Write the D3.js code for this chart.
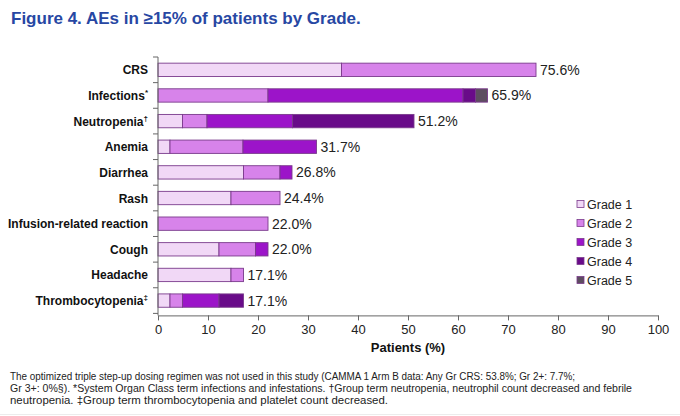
<!DOCTYPE html>
<html><head><meta charset="utf-8">
<script src="https://cdn.jsdelivr.net/npm/d3@7"></script>
<style>
body{margin:0;background:#fff;font-family:"Liberation Sans",Arial,sans-serif;}
</style></head><body>
<svg id="c" width="680" height="416"></svg>
<script>
const categories = ["CRS","Infections","Neutropenia","Anemia","Diarrhea","Rash","Infusion-related reaction","Cough","Headache","Thrombocytopenia"];
const superscripts = ["","*","†","","","","","","","‡"];
const grades = ["Grade 1","Grade 2","Grade 3","Grade 4","Grade 5"];
const grade1 = [36.7, 0, 4.9, 2.4, 17.1, 14.6, 0, 12.2, 14.6, 2.4];
const grade2 = [38.9, 22.0, 4.9, 14.6, 7.3, 9.8, 22.0, 7.3, 2.5, 2.5];
const grade3 = [0, 39.0, 17.1, 14.7, 2.4, 0, 0, 2.5, 0, 7.3];
const grade4 = [0, 2.5, 24.3, 0, 0, 0, 0, 0, 0, 4.9];
const grade5 = [0, 2.4, 0, 0, 0, 0, 0, 0, 0, 0];
const totalLabels = ["75.6%","65.9%","51.2%","31.7%","26.8%","24.4%","22.0%","22.0%","17.1%","17.1%"];
const xTicks = [0,10,20,30,40,50,60,70,80,90,100];
const colors = ["#f1d8f6","#d783ea","#9c14c9","#690b89","#5d4d60"];

const svg = d3.select("#c");
const series = [grade1,grade2,grade3,grade4,grade5];
const rows = categories.map((c,i)=>{const o={cat:c}; grades.forEach((g,k)=>o[g]=series[k][i]); return o;});
const stack = d3.stack().keys(grades)(rows);

const x = d3.scaleLinear().domain([0,100]).range([158,658]);
const y = d3.scaleBand().domain(categories).range([57,313.4]).paddingInner(0.48).paddingOuter(0.24);

// title
svg.append("text").attr("x",11).attr("y",24).attr("fill","#2747a3")
  .attr("font-size",17).attr("font-weight","bold").text("Figure 4. AEs in ≥15% of patients by Grade.");

// bars
const g = svg.append("g");
stack.forEach((s,k)=>{
  g.selectAll(null).data(s.filter(d=>d[1]-d[0]>0)).enter().append("rect")
    .attr("x",d=>x(d[0])).attr("width",d=>x(d[1])-x(d[0]))
    .attr("y",d=>y(d.data.cat)).attr("height",y.bandwidth())
    .attr("fill",colors[k]).attr("stroke","#7a3b8c").attr("stroke-width",0.9);
});

// totals
const totals = categories.map((c,i)=>series.reduce((a,s)=>a+s[i],0));
svg.selectAll(null).data(categories).enter().append("text")
  .attr("x",(d,i)=>x(totals[i])+4).attr("y",d=>y(d)+y.bandwidth()/2+5)
  .attr("font-size",14).attr("fill","#222").text((d,i)=>totalLabels[i]);

// y axis
const axisColor="#666";
const axisY = y.range()[1]+2;
svg.append("line").attr("x1",x(0)).attr("x2",x(0)).attr("y1",y.range()[0]).attr("y2",axisY).attr("stroke",axisColor);
const bounds = categories.map(c=>y(c)-y.step()*y.paddingInner()/2).concat([y.range()[1]]);
bounds[0]=y.range()[0];
svg.selectAll(null).data(bounds).enter().append("line")
  .attr("x1",x(0)-5).attr("x2",x(0)).attr("y1",d=>d).attr("y2",d=>d).attr("stroke",axisColor);
const lab = svg.selectAll(null).data(categories).enter().append("text")
  .attr("x",x(0)-10).attr("y",d=>y(d)+y.bandwidth()/2+4.5)
  .attr("text-anchor","end").attr("font-size",12).attr("font-weight","bold").attr("fill","#111");
lab.append("tspan").text(d=>d);
lab.append("tspan").attr("font-size",8).attr("dy",-5).text((d,i)=>superscripts[i]);

// x axis
const xa = svg.append("g").attr("transform",`translate(0,${axisY})`)
  .call(d3.axisBottom(x).tickValues(xTicks).tickSize(5).tickSizeOuter(0).tickPadding(4));
xa.select(".domain").attr("stroke",axisColor);
xa.selectAll(".tick line").attr("stroke",axisColor);
xa.selectAll("text").attr("font-size",13).attr("fill","#222").attr("font-family","Liberation Sans, Arial, sans-serif");
svg.append("text").attr("x",408).attr("y",352).attr("text-anchor","middle")
  .attr("font-size",13).attr("font-weight","bold").attr("fill","#111").text("Patients (%)");

// legend
const lg = svg.append("g").attr("transform","translate(577,204)");
grades.forEach((gname,k)=>{
  const row = lg.append("g").attr("transform",`translate(0,${k*19})`);
  row.append("rect").attr("x",0).attr("y",-3.5).attr("width",7).attr("height",7)
    .attr("fill",colors[k]).attr("stroke","#7a3b8c").attr("stroke-width",0.8);
  row.append("text").attr("x",10).attr("y",4.5).attr("font-size",12.5).attr("fill","#222").text(gname);
});

// footnote
const foot = [
  "The optimized triple step-up dosing regimen was not used in this study (CAMMA 1 Arm B data: Any Gr CRS: 53.8%; Gr 2+: 7.7%;",
  "Gr 3+: 0%§). *System Organ Class term infections and infestations. †Group term neutropenia, neutrophil count decreased and febrile",
  "neutropenia. ‡Group term thrombocytopenia and platelet count decreased."
];
const footLen = [565, 622, 378];
svg.selectAll(null).data(foot).enter().append("text")
  .attr("x",10).attr("y",(d,i)=>380+i*12.2).attr("font-size",10.5).attr("fill","#222")
  .attr("textLength",(d,i)=>footLen[i]).attr("lengthAdjust","spacingAndGlyphs")
  .text(d=>d);
svg.append("line").attr("x1",0).attr("x2",680).attr("y1",414.5).attr("y2",414.5).attr("stroke","#ececec");
</script></body></html>
